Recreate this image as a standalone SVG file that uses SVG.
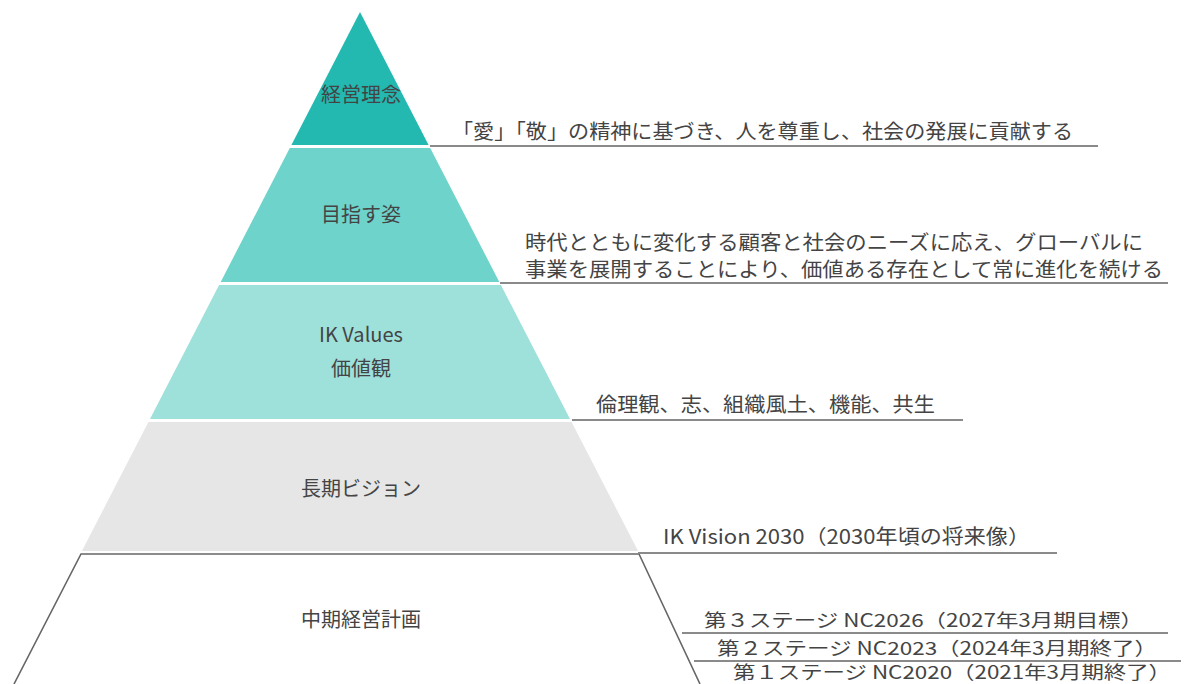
<svg xmlns="http://www.w3.org/2000/svg" width="1187" height="684" viewBox="0 0 1187 684">
<style>
  text { font-family: "Noto Sans CJK JP", "Noto Sans", "Liberation Sans", sans-serif; fill: #444; font-size: 20px; }
  .c { text-anchor: middle; }
  .s { font-size: 18px; }
  .lead { stroke: #8a8a8a; stroke-width: 2; fill: none; }
  .edge { stroke: #666; stroke-width: 1.6; fill: none; }
</style>
<rect width="1187" height="684" fill="#ffffff"/>
<g id="tier-philosophy">
  <polygon points="360,12 428.6,145 291.4,145" fill="#23b8b0"/>
  <text class="c" x="361" y="102">経営理念</text>
</g>
<g id="tier-vision">
  <polygon points="289.8,148 430.2,148 499.3,282 220.7,282" fill="#6dd3cb"/>
  <text class="c" x="361" y="222">目指す姿</text>
</g>
<g id="tier-values">
  <polygon points="219.1,285 500.9,285 570,419 150,419" fill="#9ee0da"/>
  <text class="c" x="361" y="342">IK Values</text>
  <text class="c" x="361" y="376">価値観</text>
</g>
<g id="tier-longterm">
  <polygon points="148.4,422 571.6,422 638.1,551 81.9,551" fill="#e6e6e6"/>
  <text class="c" x="361" y="496">長期ビジョン</text>
</g>
<g id="tier-midterm">
  <polyline class="edge" points="14,684 81,554 639,554 700,684"/>
  <text class="c" x="361" y="627">中期経営計画</text>
</g>
<g id="leaders">
  <line class="lead" x1="430" y1="146" x2="1098" y2="146"/>
  <line class="lead" x1="500" y1="283" x2="1168" y2="283"/>
  <line class="lead" x1="572" y1="420" x2="963" y2="420"/>
  <line class="lead" x1="638" y1="553" x2="1057" y2="553"/>
  <line class="lead" x1="682" y1="633" x2="1168" y2="633"/>
  <line class="lead" x1="694" y1="661" x2="1181" y2="661"/>
</g>
<g id="desc-philosophy">
  <text x="452" y="139" textLength="621" lengthAdjust="spacingAndGlyphs">「愛」「敬」の精神に基づき、人を尊重し、社会の発展に貢献する</text>
</g>
<g id="desc-vision">
  <text x="525" y="250" textLength="618" lengthAdjust="spacingAndGlyphs">時代とともに変化する顧客と社会のニーズに応え、グローバルに</text>
  <text x="525" y="277" textLength="638" lengthAdjust="spacingAndGlyphs">事業を展開することにより、価値ある存在として常に進化を続ける</text>
</g>
<g id="desc-values">
  <text x="596" y="412" textLength="339" lengthAdjust="spacingAndGlyphs">倫理観、志、組織風土、機能、共生</text>
</g>
<g id="desc-longterm">
  <text x="663" y="544" textLength="367" lengthAdjust="spacingAndGlyphs">IK Vision 2030（2030年頃の将来像）</text>
</g>
<g id="desc-midterm">
  <text class="s" x="704" y="627" textLength="439" lengthAdjust="spacingAndGlyphs">第３ステージ  NC2026（2027年3月期目標）</text>
  <text class="s" x="717" y="655" textLength="440" lengthAdjust="spacingAndGlyphs">第２ステージ  NC2023（2024年3月期終了）</text>
  <text class="s" x="733" y="679" textLength="438" lengthAdjust="spacingAndGlyphs">第１ステージ  NC2020（2021年3月期終了）</text>
</g>
</svg>
